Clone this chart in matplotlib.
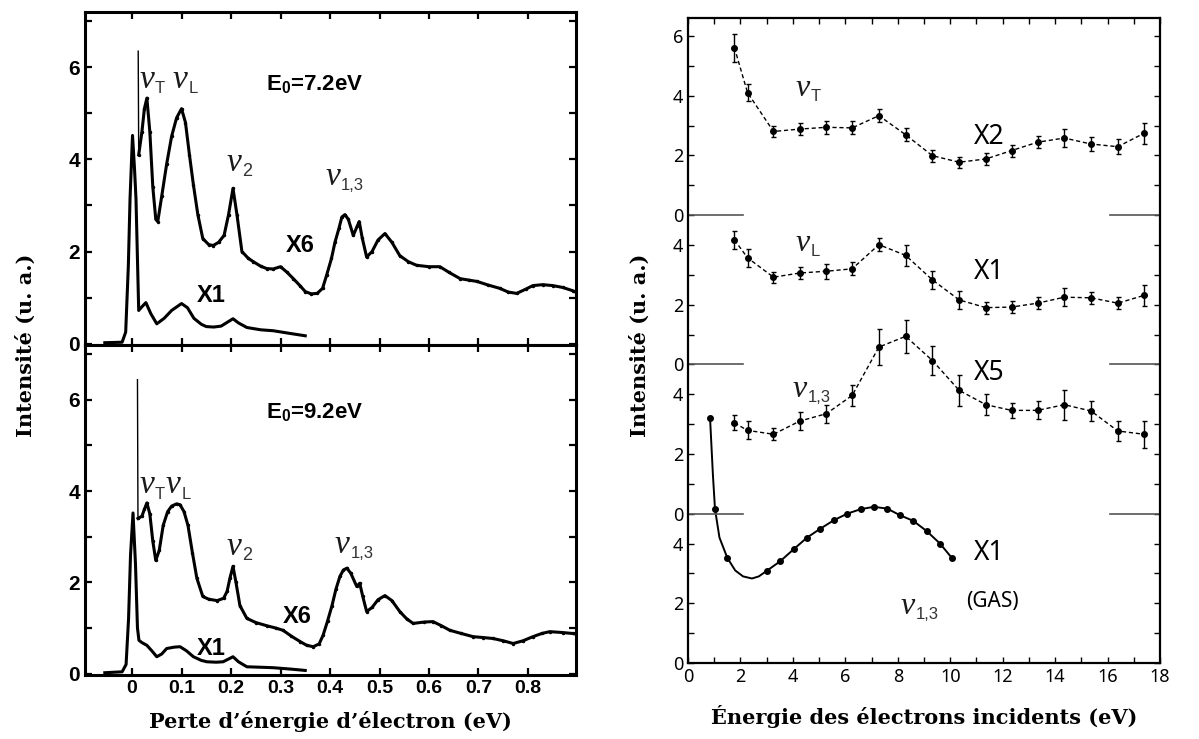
import numpy as np
import matplotlib
matplotlib.use("Agg")
import matplotlib.pyplot as plt
from matplotlib.ticker import FixedLocator, FixedFormatter
from matplotlib.font_manager import FontProperties

plt.rcParams['mathtext.fontset'] = 'custom'
plt.rcParams['mathtext.rm'] = 'Liberation Sans'
plt.rcParams['mathtext.bf'] = 'Liberation Sans:bold'

# ---- left: electron energy loss spectra (E0 = 7.2 eV and 9.2 eV)
x6_top_x = [0.0125, 0.0135, 0.02, 0.025, 0.030, 0.036, 0.042, 0.048, 0.052, 0.06, 0.07, 0.08, 0.09, 0.1,
            0.108, 0.116, 0.124, 0.133, 0.143, 0.155, 0.164, 0.175, 0.186, 0.195, 0.204, 0.212, 0.222,
            0.235, 0.245, 0.26, 0.272, 0.285, 0.3, 0.313, 0.326, 0.34, 0.35, 0.362, 0.374, 0.385, 0.393,
            0.403, 0.41, 0.418, 0.424, 0.43, 0.437, 0.447, 0.455, 0.459, 0.465, 0.474, 0.485, 0.497,
            0.511, 0.525, 0.541, 0.558, 0.575, 0.6, 0.622, 0.64, 0.663, 0.68, 0.697, 0.72, 0.743, 0.76,
            0.777, 0.795, 0.81, 0.83, 0.85, 0.87, 0.89, 0.9]
x6_top_y = [6.35, 4.1, 4.6, 5.1, 5.33, 4.6, 3.4, 2.7, 2.65, 3.2, 3.9, 4.5, 4.9, 5.1,
            4.8, 4.1, 3.45, 2.8, 2.28, 2.15, 2.13, 2.2, 2.35, 2.8, 3.37, 2.8, 2.0,
            1.85, 1.78, 1.68, 1.63, 1.62, 1.67, 1.55, 1.41, 1.25, 1.13, 1.08, 1.09, 1.2, 1.48,
            1.85, 2.2, 2.5, 2.75, 2.8, 2.7, 2.35, 2.55, 2.65, 2.3, 1.88, 2.0, 2.25,
            2.39, 2.2, 1.91, 1.78, 1.7, 1.67, 1.67, 1.55, 1.41, 1.38, 1.35, 1.27, 1.2, 1.12,
            1.09, 1.18, 1.26, 1.28, 1.26, 1.22, 1.15, 1.1]
x1_top_x = [-0.055, -0.02, -0.0128, -0.0074, -0.004, 0.001, 0.005, 0.008, 0.0135, 0.02, 0.028, 0.038,
            0.05, 0.065, 0.08, 0.1, 0.112, 0.125, 0.14, 0.15, 0.165, 0.18, 0.195, 0.204, 0.215, 0.232,
            0.26, 0.285, 0.32, 0.35]
x1_top_y = [0.02, 0.03, 0.25, 1.7, 3.15, 4.52, 3.8, 3.15, 0.72, 0.8, 0.89, 0.65,
            0.43, 0.55, 0.72, 0.87, 0.78, 0.55, 0.42, 0.37, 0.36, 0.38, 0.48, 0.54, 0.45, 0.35,
            0.3, 0.28, 0.22, 0.17]

x6_bot_x = [0.011, 0.012, 0.02, 0.025, 0.03, 0.036, 0.042, 0.048, 0.055, 0.063, 0.072, 0.08, 0.09, 0.097,
            0.105, 0.113, 0.122, 0.131, 0.143, 0.155, 0.172, 0.185, 0.192, 0.198, 0.204, 0.21, 0.218,
            0.232, 0.25, 0.272, 0.29, 0.305, 0.322, 0.34, 0.353, 0.366, 0.378, 0.386, 0.395, 0.404,
            0.412, 0.42, 0.427, 0.434, 0.442, 0.454, 0.46, 0.466, 0.474, 0.485, 0.497, 0.511, 0.525,
            0.541, 0.555, 0.568, 0.59, 0.608, 0.625, 0.642, 0.665, 0.689, 0.71, 0.729, 0.75, 0.77,
            0.79, 0.81, 0.828, 0.844, 0.87, 0.89, 0.9]
x6_bot_y = [6.44, 3.4, 3.45, 3.6, 3.74, 3.5, 2.9, 2.48, 2.7, 3.25, 3.55, 3.67, 3.72, 3.7,
            3.55, 3.25, 2.65, 2.09, 1.69, 1.63, 1.6, 1.65, 1.8, 2.1, 2.35, 2.0, 1.49,
            1.21, 1.12, 1.05, 1.0, 0.95, 0.82, 0.7, 0.62, 0.59, 0.65, 0.84, 1.15, 1.49,
            1.85, 2.13, 2.27, 2.31, 2.2, 1.91, 1.98, 1.7, 1.36, 1.45, 1.62, 1.71, 1.6,
            1.36, 1.2, 1.1, 1.13, 1.14, 1.05, 0.95, 0.88, 0.81, 0.79, 0.77, 0.72, 0.66,
            0.72, 0.81, 0.88, 0.92, 0.9, 0.88, 0.86]
x1_bot_x = [-0.055, -0.02, -0.012, -0.007, -0.003, 0.002, 0.007, 0.011, 0.014, 0.02, 0.03, 0.04, 0.05,
            0.06, 0.07, 0.085, 0.097, 0.11, 0.124, 0.14, 0.151, 0.17, 0.184, 0.195, 0.204, 0.215,
            0.232, 0.26, 0.285, 0.32, 0.35]
x1_bot_y = [0.02, 0.04, 0.2, 1.2, 2.6, 3.52, 2.4, 1.0, 0.73, 0.68, 0.62, 0.5, 0.37,
            0.43, 0.55, 0.58, 0.59, 0.5, 0.37, 0.29, 0.26, 0.25, 0.26, 0.32, 0.37, 0.26,
            0.15, 0.14, 0.13, 0.1, 0.07]

# ---- right: intensity vs incident energy, panels offset by 5 units
energy = [1.77, 2.27, 3.26, 4.26, 5.28, 6.26, 7.28, 8.30, 9.32, 10.34, 11.36, 12.34, 13.33, 14.35,
          15.37, 16.39, 17.39]
nuT = [5.61, 4.1, 2.8, 2.88, 2.94, 2.92, 3.33, 2.69, 1.99, 1.77, 1.88, 2.16, 2.44, 2.58, 2.38, 2.29, 2.74]
nuT_err = [0.47, 0.28, 0.2, 0.2, 0.22, 0.22, 0.22, 0.22, 0.2, 0.18, 0.2, 0.2, 0.2, 0.3, 0.25, 0.25, 0.35]
nuL = [4.17, 3.57, 2.92, 3.06, 3.12, 3.2, 4.01, 3.65, 2.83, 2.16, 1.9, 1.92, 2.05, 2.25, 2.23, 2.05, 2.31]
nuL_err = [0.3, 0.3, 0.18, 0.2, 0.25, 0.22, 0.22, 0.35, 0.3, 0.3, 0.2, 0.2, 0.2, 0.3, 0.2, 0.2, 0.35]
nu13 = [3.04, 2.79, 2.66, 3.1, 3.35, 3.96, 5.58, 5.94, 5.13, 4.13, 3.65, 3.46, 3.46, 3.65, 3.44, 2.77, 2.66]
nu13_err = [0.25, 0.3, 0.2, 0.3, 0.3, 0.35, 0.6, 0.55, 0.5, 0.53, 0.35, 0.25, 0.3, 0.5, 0.35, 0.35, 0.45]
gas_x = [0.84, 1.03, 1.5, 3.01, 3.52, 4.03, 4.54, 5.05, 5.56, 6.07, 6.58, 7.09, 7.6, 8.08, 8.59, 9.1,
         9.61, 10.08]
gas_y = [8.22, 5.15, 3.52, 3.09, 3.41, 3.81, 4.2, 4.5, 4.78, 5.0, 5.15, 5.23, 5.17, 4.95, 4.76, 4.42,
         4.0, 3.5]
gas_curve_x = [0.84, 0.95, 1.03, 1.2, 1.5, 1.8, 2.1, 2.44, 2.7, 3.01, 3.52, 4.03, 4.54, 5.05, 5.56,
               6.07, 6.58, 7.09, 7.6, 8.08, 8.59, 9.1, 9.61, 10.08]
gas_curve_y = [8.22, 6.3, 5.15, 4.2, 3.52, 3.1, 2.9, 2.83, 2.9, 3.09, 3.41, 3.81, 4.2, 4.5, 4.78,
               5.0, 5.15, 5.23, 5.17, 4.95, 4.76, 4.42, 4.0, 3.5]
offsets = [15, 10, 5, 0]

W, H = 1199, 739
fig = plt.figure(figsize=(W / 100, H / 100), dpi=100)

serif_bold = dict(family='DejaVu Serif', fontweight='bold', fontsize=15)
sans_bold = dict(family='Liberation Sans', fontweight='bold')


def nu(ax, x, y, sub, size=24, subsize=12):
    # italic serif nu with a small upright sans subscript
    ax.text(x, y, '\u03bd', family='Liberation Serif', style='italic', fontsize=size,
            color='#1a1a1a', va='baseline')
    ax.annotate(sub, xy=(x, y), xytext=(size * 0.47, -size * 0.16), textcoords='offset points',
                family='Liberation Sans', fontsize=subsize, color='#333333', va='baseline')


def style_left(ax, show_xlabels):
    ax.set_xlim(-0.095, 0.897)
    ax.set_ylim(-0.03, 7.2)
    ax.set_xticks(np.arange(0, 0.81, 0.1))
    ax.set_yticks([0, 2, 4, 6])
    ax.set_yticks([1, 3, 5, 7], minor=True)
    ax.tick_params(which='both', direction='in', top=True, right=True, length=5, width=1.6,
                   labelsize=14)
    for s in ax.spines.values():
        s.set_linewidth(2.2)
    for lab in ax.get_yticklabels():
        lab.set_fontproperties(FontProperties(family='Liberation Sans', weight='bold', size=15))
    if show_xlabels:
        ax.set_xticklabels(['0', '0.1', '0.2', '0.3', '0.4', '0.5', '0.6', '0.7', '0.8'],
                           family='Liberation Sans', fontweight='bold', fontsize=14)
    else:
        ax.set_xticklabels([])


ax1 = fig.add_axes([85 / W, 1 - 345 / H, 491 / W, 333 / H])
ax2 = fig.add_axes([85 / W, 1 - 675 / H, 491 / W, 330 / H])

for ax, xs6, ys6, xs1, ys1, e0 in [(ax1, x6_top_x, x6_top_y, x1_top_x, x1_top_y, '7.2'),
                                   (ax2, x6_bot_x, x6_bot_y, x1_bot_x, x1_bot_y, '9.2')]:
    ax.plot(xs6[:2], ys6[:2], color='black', lw=1.0)
    ax.plot(xs6[1:], ys6[1:], color='black', lw=2.2, marker='.', ms=3)
    ax.plot(xs1, ys1, color='black', lw=2.2)
    ax.text(0.27, 5.5 if e0 == '7.2' else 5.6, r'$\mathbf{E_0}$' + '=' + e0 + 'eV', fontsize=16,
            **sans_bold)

# peak labels
nu(ax1, 0.015, 5.55, 'T')
nu(ax1, 0.082, 5.55, 'L')
nu(ax1, 0.19, 3.75, '2', subsize=13)
nu(ax1, 0.39, 3.45, '1,3')
ax1.text(0.31, 2.0, 'X6', fontsize=17, **sans_bold)
ax1.text(0.13, 0.9, 'X1', fontsize=17, **sans_bold)
nu(ax2, 0.015, 3.95, 'T')
nu(ax2, 0.068, 3.95, 'L')
nu(ax2, 0.19, 2.6, '2', subsize=13)
nu(ax2, 0.41, 2.65, '1,3')
ax2.text(0.305, 1.1, 'X6', fontsize=17, **sans_bold)
ax2.text(0.13, 0.4, 'X1', fontsize=17, **sans_bold)

style_left(ax1, False)
style_left(ax2, True)
ax2.set_xlabel('Perte d\u2019énergie d\u2019électron (eV)', labelpad=10, **serif_bold)
fig.text(26 / W, 1 - 345 / H, 'Intensité (u. a.)', rotation=90, ha='center', va='center', **serif_bold)

# ---- right panel
ax3 = fig.add_axes([688 / W, 1 - 663 / H, 472 / W, 645 / H])
ax3.set_xlim(0, 18)
ax3.set_ylim(0, 21.6)

series = [(nuT, nuT_err), (nuL, nuL_err), (nu13, nu13_err)]
for (vals, errs), off in zip(series, offsets[:3]):
    yy = np.array(vals) + off
    ax3.plot(energy, yy, ls=(0, (3, 2)), color='black', lw=1.0)
    ax3.errorbar(energy, yy, yerr=errs, fmt='o', color='black', ms=4, elinewidth=1.0,
                 capsize=1.8, capthick=1.0)

ax3.plot(gas_curve_x, gas_curve_y, color='black', lw=1.4)
ax3.plot(gas_x, gas_y, 'o', color='black', ms=4)

for off in offsets[:3]:
    ax3.plot([0, 2.1], [off, off], color='#555555', lw=1.2)
    ax3.plot([16.1, 18], [off, off], color='#555555', lw=1.2)

ax3.set_xticks(np.arange(0, 19, 2))
ax3.set_xticks(np.arange(1, 19, 2), minor=True)
lab_pos = [0, 2, 4, 5, 7, 9, 10, 12, 14, 15, 17, 19, 21]
lab_txt = ['0', '2', '4', '0', '2', '4', '0', '2', '4', '0', '2', '4', '6']
ax3.yaxis.set_major_locator(FixedLocator(lab_pos))
ax3.yaxis.set_major_formatter(FixedFormatter(lab_txt))
ax3.yaxis.set_minor_locator(FixedLocator([1, 3, 6, 8, 11, 13, 16, 18, 20]))
ax3.tick_params(which='both', direction='in', top=True, right=True, length=4, width=1.0,
                labelsize=13)
for lab in ax3.get_xticklabels() + ax3.get_yticklabels():
    lab.set_family('Noto Sans')
for s in ax3.spines.values():
    s.set_linewidth(1.6)

nu(ax3, 4.1, 19.0, 'T', size=23)
nu(ax3, 4.1, 13.8, 'L', size=23)
nu(ax3, 4.0, 8.9, '1,3', size=23)
nu(ax3, 8.1, 1.65, '1,3', size=23)
ax3.text(10.6, 2.07, '(GAS)', fontsize=15, family='Noto Sans', va='center')
for txt, yv in [('X2', 17.6), ('X1', 13.1), ('X5', 9.7), ('X1', 3.7)]:
    ax3.text(10.9, yv, txt, fontsize=19, family='Noto Sans', va='center')

ax3.set_xlabel('Énergie des électrons incidents (eV)', labelpad=14, **serif_bold)
fig.text(640 / W, 1 - 345 / H, 'Intensité (u. a.)', rotation=90, ha='center', va='center', **serif_bold)

fig.savefig('out.png', dpi=100)
